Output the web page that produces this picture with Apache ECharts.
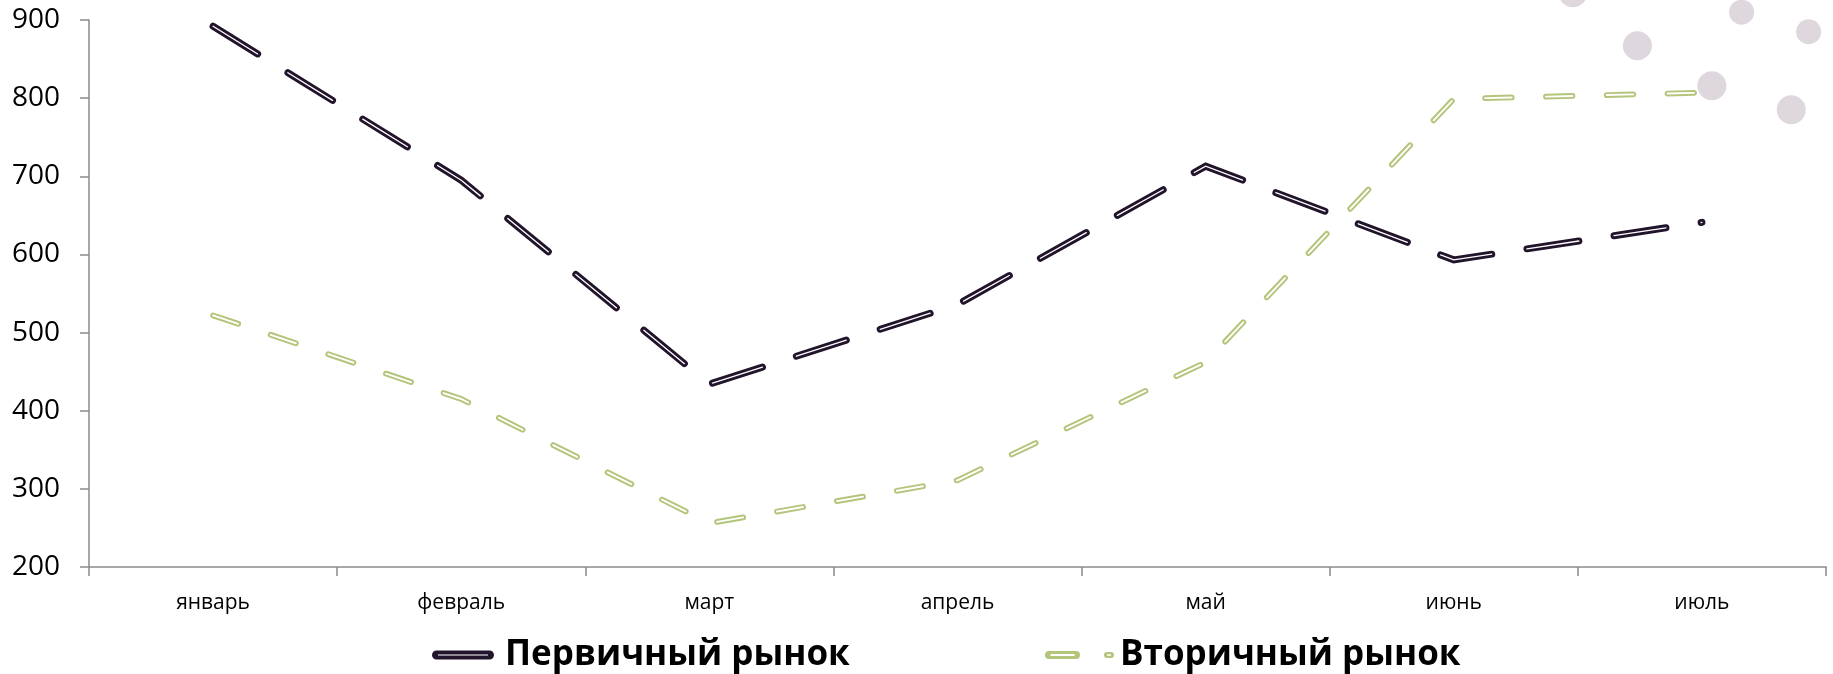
<!DOCTYPE html>
<html>
<head>
<meta charset="utf-8">
<style>
  html, body { margin: 0; padding: 0; background: #ffffff; }
  #chart { width: 1833px; height: 674px; }
</style>
<script src="https://cdn.jsdelivr.net/npm/echarts@6/dist/echarts.min.js"></script>
</head>
<body>
<div id="chart"></div>
<script>
// Months on the category axis
const months = ['январь', 'февраль', 'март', 'апрель', 'май', 'июнь', 'июль'];

// Monthly values of the two markets
const primaryMarket = [892, 695, 434, 536, 713, 593, 641];
const secondaryMarket = [522, 415, 256, 311, 462, 799, 807];

// Value axis range and step
const yMin = 200;
const yMax = 900;
const yStep = 100;

// Decorative dots in the upper right corner (x in month units, y in axis units)
const bigDotsX = [5.98, 6.24, 6.54, 6.86];
const bigDotsY = [935, 867, 816, 785];
const smallDotsX = [6.66, 6.93];
const smallDotsY = [910, 885];

const primaryName = 'Первичный рынок';
const secondaryName = 'Вторичный рынок';

const DARK = '#21142b';
const GREEN = '#b3c57a';
const DOT = '#d6ced6';
const AXIS = '#8a8a8a';
const FONT = '"Open Sans", "Noto Sans", sans-serif';

// Capsule outline icons used in the legend (solid capsule with a thin hollow stripe)
const darkIcon = 'path://M4.5,0 H57.5 A4.5,4.5 0 0 1 57.5,9 H4.5 A4.5,4.5 0 0 1 4.5,0 Z ' +
                 'M6,3.9 V5.1 H56 V3.9 Z';
const greenIcon = 'path://M4,0 H31 A4,4 0 0 1 31,8 H4 A4,4 0 0 1 4,0 Z M5.5,3 V5 H29.5 V3 Z ' +
                  'M62,1 H66 A3,3 0 0 1 66,7 H62 A3,3 0 0 1 62,1 Z M62,3.2 V4.8 H66 V3.2 Z';

function pairs(xs, ys) {
  return xs.map((x, i) => [x, ys[i]]);
}

// Two stacked dashed strokes give each line its outlined look
function outlinedLine(name, values, color, outerWidth, innerWidth, dash, z) {
  return [
    {
      name: name,
      type: 'line',
      data: values,
      symbol: 'none',
      z: z,
      lineStyle: { color: color, width: outerWidth, type: dash, cap: 'round', join: 'miter' },
      itemStyle: { color: color }
    },
    {
      name: name + ' (контур)',
      type: 'line',
      data: values,
      symbol: 'none',
      z: z + 1,
      silent: true,
      lineStyle: { color: '#ffffff', width: innerWidth, type: dash, cap: 'round', join: 'miter' }
    }
  ];
}

const chart = echarts.init(document.getElementById('chart'), null, { renderer: 'canvas' });

chart.setOption({
  animation: false,
  backgroundColor: '#ffffff',
  grid: { left: 89, right: 7, top: 20, bottom: 107, containLabel: false },
  legend: [
    {
      data: [{ name: primaryName, icon: darkIcon }],
      left: 427,
      top: 628,
      itemWidth: 62,
      itemHeight: 9,
      itemStyle: { color: DARK, borderWidth: 0 },
      textStyle: { fontFamily: FONT, fontSize: 35, fontWeight: 'bold', color: '#000', padding: [0, 0, 0, 6], lineHeight: 44 },
      selectedMode: false
    },
    {
      data: [{ name: secondaryName, icon: greenIcon }],
      left: 1040,
      top: 628,
      itemWidth: 69,
      itemHeight: 8,
      itemStyle: { color: GREEN, borderWidth: 0 },
      textStyle: { fontFamily: FONT, fontSize: 35, fontWeight: 'bold', color: '#000', padding: [0, 0, 0, 1], lineHeight: 44 },
      selectedMode: false
    }
  ],
  xAxis: [
    {
      type: 'category',
      data: months,
      boundaryGap: true,
      axisLine: { lineStyle: { color: AXIS, width: 1.5 } },
      axisTick: { show: true, length: 9, lineStyle: { color: AXIS, width: 1.5 } },
      axisLabel: { fontFamily: FONT, fontSize: 21, color: '#000', margin: 26 },
      splitLine: { show: false }
    },
    {
      type: 'value',
      min: 0,
      max: months.length,
      show: false
    }
  ],
  yAxis: {
    type: 'value',
    min: yMin,
    max: yMax,
    interval: yStep,
    axisLine: { show: true, lineStyle: { color: AXIS, width: 1.5 } },
    axisTick: { show: true, length: 9, lineStyle: { color: AXIS, width: 1.5 } },
    axisLabel: { fontFamily: FONT, fontSize: 28, color: '#000', margin: 29 },
    splitLine: { show: false }
  },
  series: [
    {
      name: 'точки',
      type: 'scatter',
      xAxisIndex: 1,
      data: pairs(bigDotsX, bigDotsY),
      symbolSize: 29,
      clip: false,
      silent: true,
      z: 1,
      itemStyle: { color: DOT }
    },
    {
      name: 'точки малые',
      type: 'scatter',
      xAxisIndex: 1,
      data: pairs(smallDotsX, smallDotsY),
      symbolSize: 25,
      clip: false,
      silent: true,
      z: 1,
      itemStyle: { color: DOT }
    },
    ...outlinedLine(secondaryName, secondaryMarket, GREEN, 5.8, 1.9, [26.5, 34.3], 3),
    ...outlinedLine(primaryName, primaryMarket, DARK, 7, 1.3, [52.5, 35.57], 5)
  ]
});
</script>
</body>
</html>
